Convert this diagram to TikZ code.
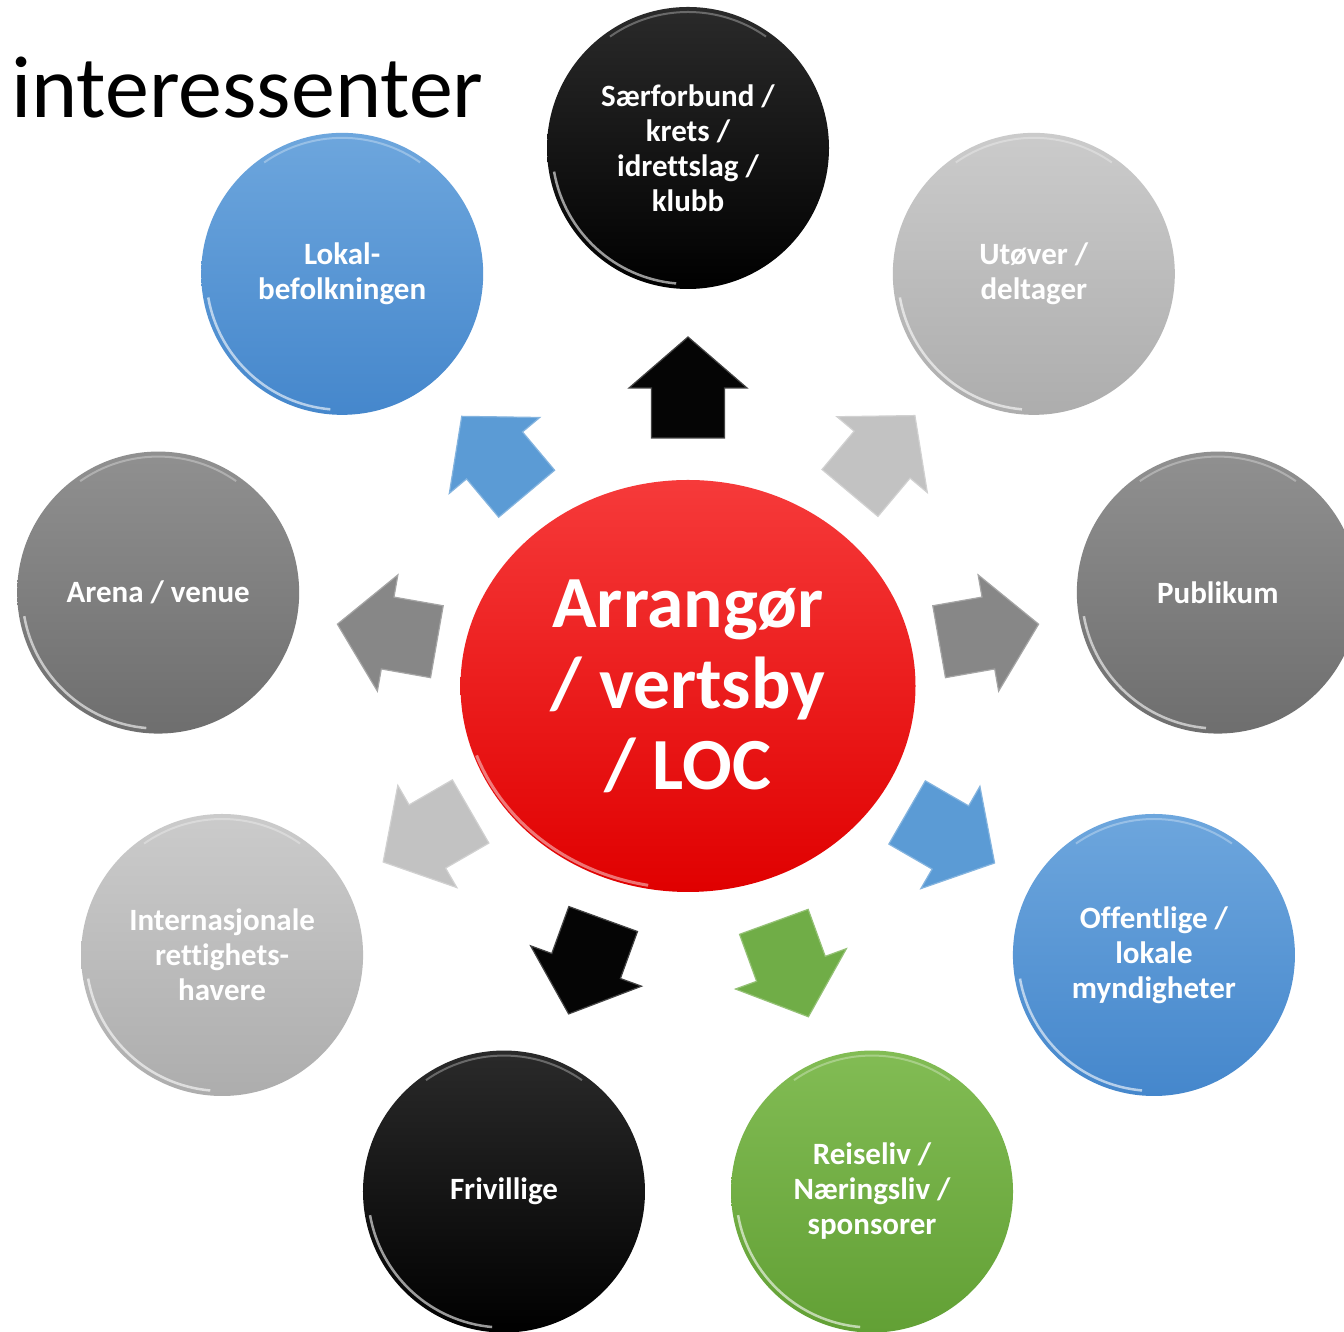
\documentclass[tikz,border=0pt]{standalone}
\usepackage{fontspec}
\setmainfont[Ligatures={NoCommon}]{Carlito}
\usetikzlibrary{shapes.geometric}
\definecolor{ltop}{HTML}{CBCBCB}\definecolor{lbot}{HTML}{ADADAD}\definecolor{larr}{HTML}{C2C2C2}
\definecolor{dtop}{HTML}{909090}\definecolor{dbot}{HTML}{6E6E6E}\definecolor{darr}{HTML}{878787}
\definecolor{btop}{HTML}{6DA6DD}\definecolor{bbot}{HTML}{4587CC}\definecolor{barr}{HTML}{5B9BD5}
\definecolor{gtop}{HTML}{82BC54}\definecolor{gbot}{HTML}{62A035}\definecolor{garr}{HTML}{70AD47}
\definecolor{ktop}{HTML}{2A2A2A}\definecolor{kbot}{HTML}{000000}\definecolor{karr}{HTML}{050505}
\definecolor{rtop}{HTML}{F63A3A}\definecolor{rbot}{HTML}{E00000}
\tikzset{
  bubble/.style={circle, minimum size=282pt, inner sep=0pt, align=center, text=white,
    font=\bfseries\fontsize{31}{35}\selectfont},
  core/.style={ellipse, minimum width=455pt, minimum height=412pt, inner sep=0pt, align=center,
    text=white, top color=rtop, bottom color=rbot, font=\bfseries\fontsize{73.5}{81}\selectfont},
  rim/.style={white, opacity=.6, line width=2.5pt},
  toprim/.style={white, opacity=.3, line width=2pt},
}
\newcommand\bubble[5]{%
  \node[bubble, top color=#3, bottom color=#4] (#1) at ([shift={(#2:538)}]C) {#5};
  \draw[rim] (#1.center) ++(190:136) arc[start angle=190, end angle=265, radius=136];
  \draw[toprim] (#1.center) ++(55:136) arc[start angle=55, end angle=125, radius=136];
}
\newcommand\blockarrow[3]{%
  \begin{scope}[shift={(C)}, rotate=#1, xshift=#3]
    \fill[#2, draw=#2!75!white, line width=1.2pt, line join=miter]
      (248,-36.5) -- (298,-36.5) -- (298,-59) -- (349,0) -- (298,59) -- (298,36.5) -- (248,36.5) -- cycle;
  \end{scope}}
\begin{document}
\begin{tikzpicture}[x=1pt,y=1pt]
\clip (0,0) rectangle (1344,1332);
\useasboundingbox (0,0) rectangle (1344,1332);
\fill[white] (0,0) rectangle (1344,1332);
\coordinate (C) at (688,646);
% arrows
\blockarrow{90}{karr}{0pt}
\blockarrow{50}{larr}{4pt}
\blockarrow{10}{darr}{7pt}
\blockarrow{-30}{barr}{5pt}
\blockarrow{-70}{garr}{3pt}
\blockarrow{-110}{karr}{0pt}
\blockarrow{-150}{larr}{3pt}
\blockarrow{170}{darr}{7pt}
\blockarrow{130}{barr}{3pt}
% centre
\node[core] (center) at (C) {Arrangør\\/ vertsby\\/ LOC};
\draw[white, opacity=.45, line width=3pt] (center.center) ++(200:225 and 203) arc[start angle=200, end angle=260, x radius=224, y radius=202];
% outer circles
\bubble{sf}{90}{ktop}{kbot}{Særforbund /\\krets /\\idrettslag /\\klubb}
\bubble{ut}{50}{ltop}{lbot}{Utøver /\\deltager}
\bubble{pub}{10}{dtop}{dbot}{Publikum}
\bubble{off}{-30}{btop}{bbot}{Offentlige /\\lokale\\myndigheter}
\bubble{rei}{-70}{gtop}{gbot}{Reiseliv /\\Næringsliv /\\sponsorer}
\bubble{fri}{-110}{ktop}{kbot}{Frivillige}
\bubble{int}{-150}{ltop}{lbot}{Internasjonale\\rettighets-\\havere}
\bubble{are}{170}{dtop}{dbot}{Arena / venue}
\bubble{lok}{130}{btop}{bbot}{Lokal-\\befolkningen}
% title
\node[anchor=base west, inner sep=0pt, font=\fontsize{88}{100}\selectfont] (title) at (11,1214) {interessenter};
\end{tikzpicture}
\end{document}
